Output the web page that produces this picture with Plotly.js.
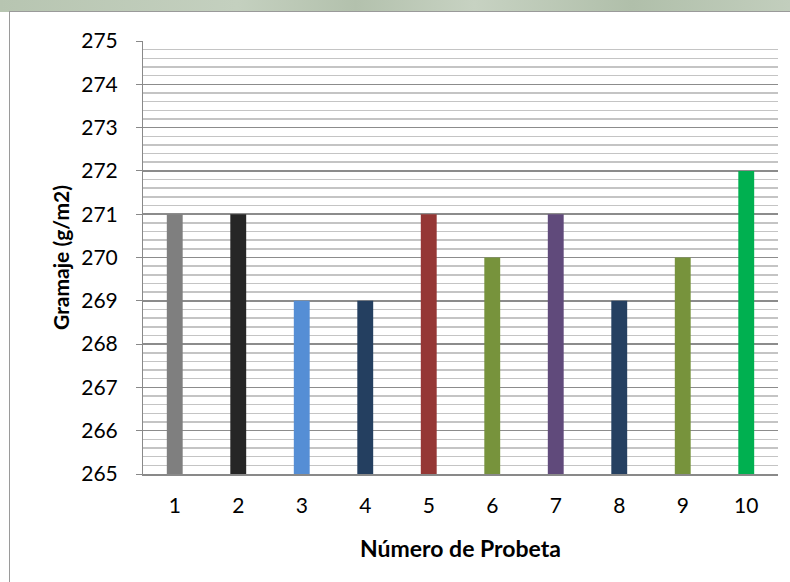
<!DOCTYPE html>
<html>
<head>
<meta charset="utf-8">
<script src="https://cdn.plot.ly/plotly-3.0.1.min.js"></script>
<style>
html,body{margin:0;padding:0;background:#fff;width:790px;height:582px;overflow:hidden;}
#strip{position:absolute;left:0;top:0;width:790px;height:12px;background:linear-gradient(90deg,#b7c5b1 0%,#c4d0bf 30%,#b3c1ad 45%,#c7d2c2 60%,#b0bfaa 80%,#c2cebd 100%);}
#frame{position:absolute;left:9px;top:11px;width:781px;height:571px;border-left:1px solid #9a9a9a;border-top:1px solid #9a9a9a;background:#fff;}
#chart{position:absolute;left:1px;top:1px;width:780px;height:570px;}
</style>
</head>
<body>
<div id="strip"></div>
<div id="frame"><div id="chart"></div></div>
<script>
const categories = ['1','2','3','4','5','6','7','8','9','10'];
const gramaje = [271, 271, 269, 269, 271, 270, 271, 269, 270, 272];
const barColors = ['#7f7f7f','#262626','#558ed5','#243f60','#953735','#77933c','#604a7b','#254061','#77933c','#00b050'];
const yTicks = [265,266,267,268,269,270,271,272,273,274,275];

const font = 'Lato, "Open Sans", sans-serif';
Plotly.newPlot('chart', [{
  type: 'bar',
  x: categories,
  y: gramaje.map(v => v - 265),
  base: 265,
  width: 0.25,
  marker: {color: barColors, line: {width: 0}},
  hoverinfo: 'skip'
}], {
  width: 780, height: 570,
  margin: {l: 132, r: 13, t: 28, b: 109},
  paper_bgcolor: '#fff', plot_bgcolor: '#fff',
  showlegend: false,
  font: {family: font, color: '#000', size: 21},
  xaxis: {
    type: 'category',
    showline: true, linecolor: '#898989', linewidth: 2,
    ticks: '', showgrid: false, zeroline: false,
    ticklabelstandoff: 12,
    tickfont: {size: 21, family: font},
    title: {text: '<b>Número de Probeta</b>', font: {size: 23, family: font}, standoff: 25}
  },
  yaxis: {
    range: [265, 275],
    tickvals: yTicks,
    ticktext: yTicks.map(String),
    showline: true, linecolor: '#898989', linewidth: 1,
    ticks: 'outside', ticklen: 6, tickcolor: '#898989',
    ticklabelstandoff: 14,
    showgrid: true, gridcolor: '#8c8c8c', gridwidth: 1.5,
    minor: {dtick: 0.2, showgrid: true, gridcolor: '#c4c4c4', gridwidth: 1.5, ticks: ''},
    zeroline: false,
    tickfont: {size: 21, family: font},
    title: {text: '<b>Gramaje (g/m2)</b>', font: {size: 21, family: font}, standoff: 5}
  }
}, {staticPlot: true, displayModeBar: false});
</script>
</body>
</html>
